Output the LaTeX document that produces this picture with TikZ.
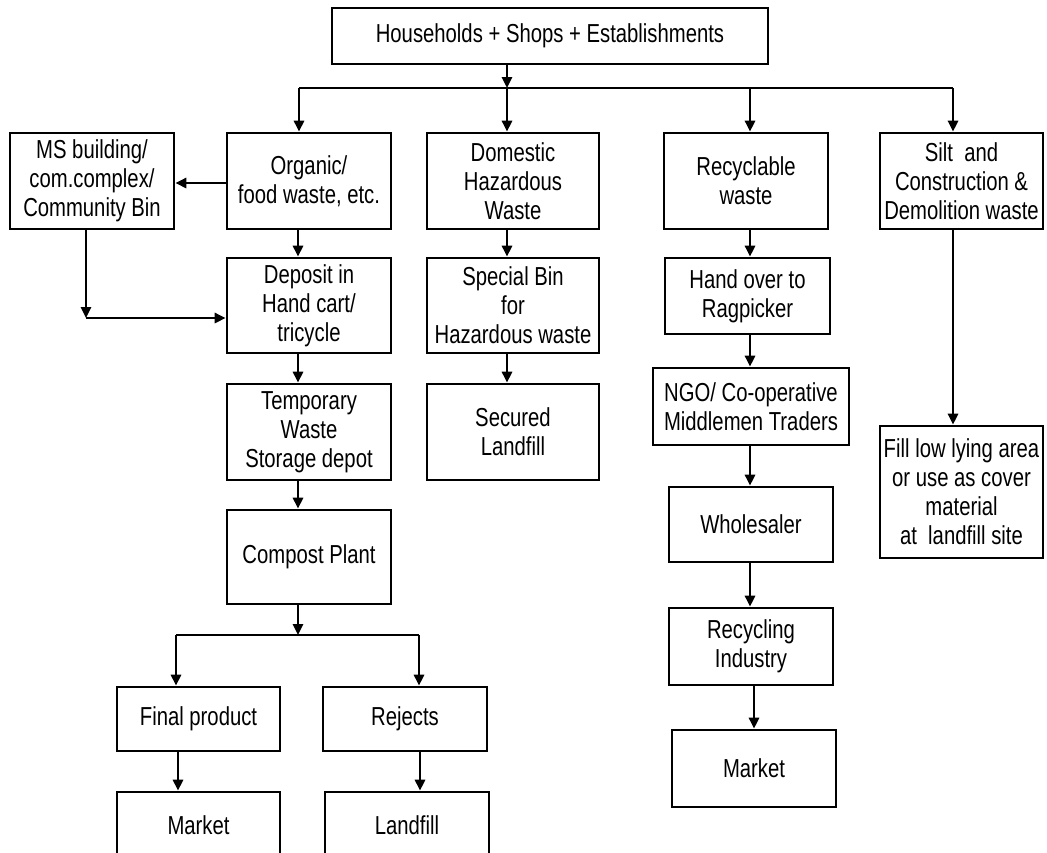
\documentclass[tikz,border=0pt]{standalone}
\usepackage{fontspec}
\setmainfont{Liberation Sans}[FakeStretch=0.78]
\usepackage{tikz}
\usetikzlibrary{arrows.meta}

\tikzset{
  kasten/.style={draw, line width=2.6pt, align=center, inner sep=0pt,
                 font=\fontsize{26}{29}\selectfont},
  pfeil/.style={line width=2.6pt, -{Triangle[length=11pt,width=10pt]}}
}

\begin{document}
\begin{tikzpicture}[x=1pt,y=-1pt]
  \useasboundingbox (0,0) rectangle (1047,852);
  \clip (0,0) rectangle (1047,852);

  % Quelle
  \node[kasten, minimum width=436, minimum height=56] (quelle) at (550,36)
    {Households + Shops + Establishments};

  % Erste Reihe
  \node[kasten, minimum width=164, minimum height=96] (msbin) at (92,181)
    {MS building/\\com.complex/\\Community Bin};
  \node[kasten, minimum width=164, minimum height=96] (organic) at (309,181)
    {Organic/\\food waste, etc.};
  \node[kasten, minimum width=172, minimum height=96] (domestic) at (513,181)
    {Domestic\\Hazardous\\Waste};
  \node[kasten, minimum width=164, minimum height=96] (recyclable) at (746,181)
    {Recyclable\\waste};
  \node[kasten, minimum width=163, minimum height=96] (silt) at (961.5,181)
    {Silt\ \ and\\Construction \&\\Demolition waste};

  % Organischer Zweig
  \node[kasten, minimum width=164, minimum height=95] (deposit) at (309,305.5)
    {Deposit in\\Hand cart/\\tricycle};
  \node[kasten, minimum width=164, minimum height=96] (depot) at (309,432)
    {Temporary\\Waste\\Storage depot};
  \node[kasten, minimum width=164, minimum height=94] (compost) at (309,557)
    {Compost Plant};
  \node[kasten, minimum width=163, minimum height=64] (final) at (198.5,719)
    {Final product};
  \node[kasten, minimum width=164, minimum height=64] (rejects) at (405,719)
    {Rejects};
  \node[kasten, minimum width=163, minimum height=66] (marktA) at (198.5,825)
    {Market};
  \node[kasten, minimum width=164, minimum height=66] (landfill) at (407,825)
    {Landfill};

  % Gefaehrlicher Abfall
  \node[kasten, minimum width=172, minimum height=95] (specialbin) at (513,305.5)
    {Special Bin\\for\\Hazardous waste};
  \node[kasten, minimum width=172, minimum height=96] (secured) at (513,432)
    {Secured\\Landfill};

  % Wertstoffe
  \node[kasten, minimum width=165, minimum height=76] (ragpicker) at (747.5,296)
    {Hand over to\\Ragpicker};
  \node[kasten, minimum width=196, minimum height=77] (ngo) at (751,406.5)
    {NGO/ Co-operative\\Middlemen Traders};
  \node[kasten, minimum width=164, minimum height=75] (wholesaler) at (751,524.5)
    {Wholesaler};
  \node[kasten, minimum width=164, minimum height=77] (industry) at (751,646.5)
    {Recycling\\Industry};
  \node[kasten, minimum width=164, minimum height=77] (marktB) at (754,768.5)
    {Market};

  % Bauschutt
  \node[kasten, minimum width=163, minimum height=132] (fill) at (961.5,492)
    {Fill low lying area\\or use as cover\\material\\at\ \ landfill site};

  % Verteiler oben
  \coordinate (bus) at (507,88);
  \coordinate (o1) at ([xshift=-10pt]organic.north);
  \coordinate (r1) at ([xshift=4pt]recyclable.north);
  \coordinate (s1) at ([xshift=-8.5pt]silt.north);
  \draw[pfeil] (quelle.south -| bus) -- (bus);
  \draw[line width=2.6pt] (bus -| o1) -- (bus -| s1);
  \draw[pfeil] (bus -| o1) -- (o1);
  \draw[pfeil] (bus) -- (bus |- domestic.north);
  \draw[pfeil] (bus -| r1) -- (r1);
  \draw[pfeil] (bus -| s1) -- (s1);

  % Organischer Zweig
  \draw[pfeil] ([yshift=-2pt]organic.west) -- ([yshift=-2pt]organic.west -| msbin.east);
  \draw[pfeil] ([xshift=-11pt]organic.south) -- ([xshift=-11pt]deposit.north);
  \coordinate (knick) at (86,318);
  \draw[pfeil] (msbin.south -| knick) -- (knick);
  \draw[pfeil] (knick) -- (knick -| deposit.west);
  \draw[pfeil] ([xshift=-11pt]deposit.south) -- ([xshift=-11pt]depot.north);
  \draw[pfeil] ([xshift=-11pt]depot.south) -- ([xshift=-11pt]compost.north);
  \coordinate (split) at (298,635);
  \coordinate (f1) at ([xshift=-22.5pt]final.north);
  \coordinate (j1) at ([xshift=14pt]rejects.north);
  \draw[pfeil] (split |- compost.south) -- (split);
  \draw[line width=2.6pt] (split -| f1) -- (split -| j1);
  \draw[pfeil] (split -| f1) -- (f1);
  \draw[pfeil] (split -| j1) -- (j1);
  \draw[pfeil] ([xshift=-20.5pt]final.south) -- ([xshift=-20.5pt]marktA.north);
  \draw[pfeil] ([xshift=15pt]rejects.south) -- ([xshift=13pt]landfill.north);

  % Gefaehrlicher Abfall
  \draw[pfeil] ([xshift=-6pt]domestic.south) -- ([xshift=-6pt]specialbin.north);
  \draw[pfeil] ([xshift=-6pt]specialbin.south) -- ([xshift=-6pt]secured.north);

  % Wertstoffe
  \draw[pfeil] ([xshift=4pt]recyclable.south) -- ([xshift=2.5pt]ragpicker.north);
  \draw[pfeil] ([xshift=2.5pt]ragpicker.south) -- ([xshift=-1pt]ngo.north);
  \draw[pfeil] ([xshift=-1pt]ngo.south) -- ([xshift=-1pt]wholesaler.north);
  \draw[pfeil] ([xshift=-1pt]wholesaler.south) -- ([xshift=-1pt]industry.north);
  \draw[pfeil] ([xshift=3pt]industry.south) -- (marktB.north);

  % Bauschutt
  \draw[pfeil] ([xshift=-8.5pt]silt.south) -- ([xshift=-8.5pt]fill.north);

\end{tikzpicture}
\end{document}
